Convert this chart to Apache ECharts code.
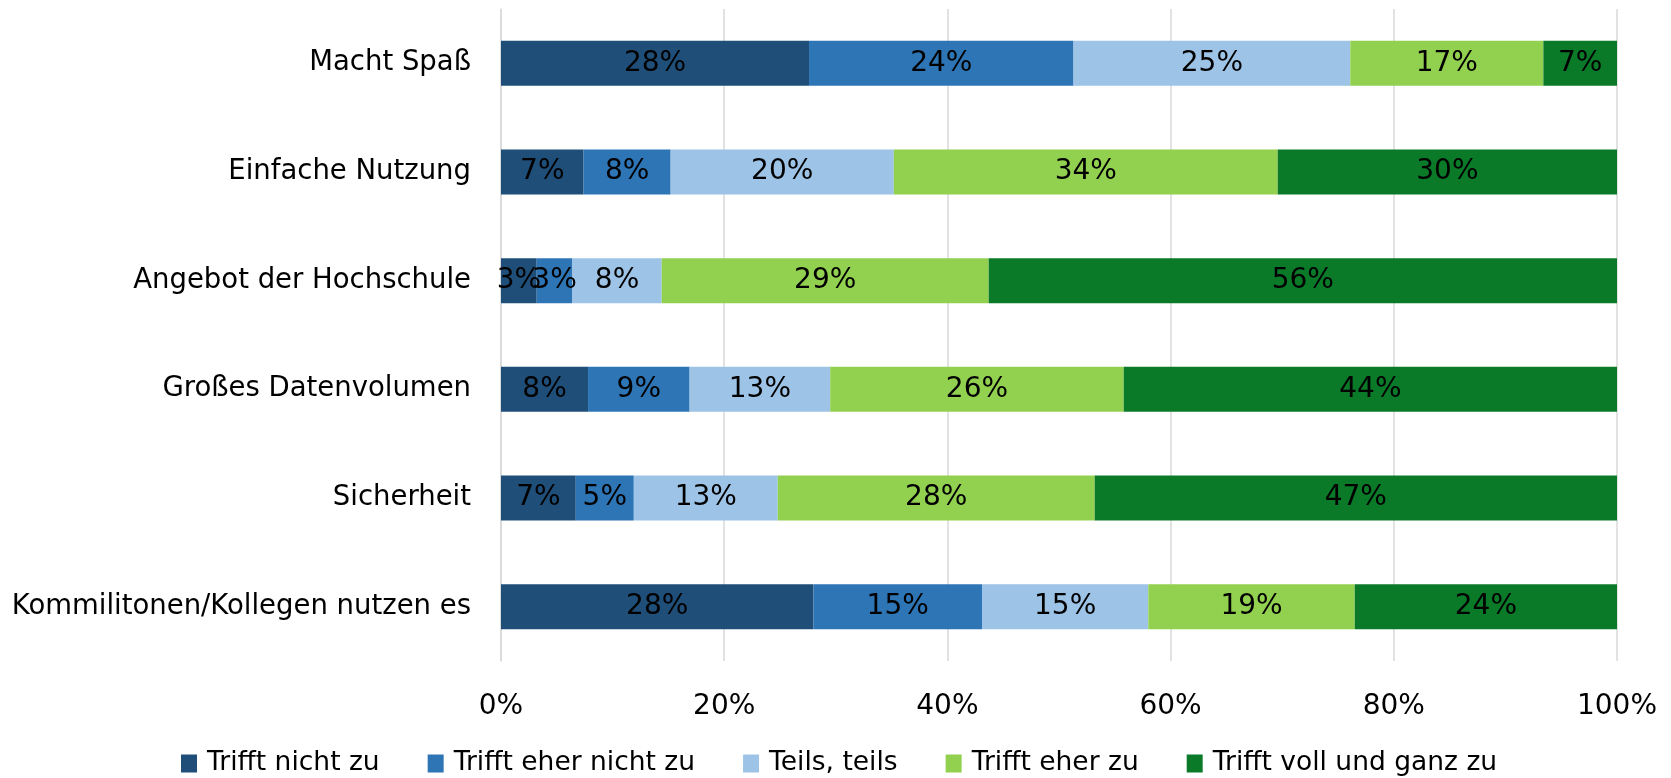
<!DOCTYPE html>
<html>
<head>
<meta charset="utf-8">
<script src="https://cdn.jsdelivr.net/npm/echarts@6/dist/echarts.min.js"></script>
<style>html,body{margin:0;padding:0;background:#fff}#c{width:1671px;height:778px}</style>
</head>
<body>
<div id="c"></div>
<script>
const categories = ["Macht Spaß","Einfache Nutzung","Angebot der Hochschule","Großes Datenvolumen","Sicherheit","Kommilitonen/Kollegen nutzen es"];
const seriesNames = ["Trifft nicht zu","Trifft eher nicht zu","Teils, teils","Trifft eher zu","Trifft voll und ganz zu"];
const triffNicht      = [27.6, 7.4, 3.2, 7.8, 6.7, 28.0];
const triffEherNicht  = [23.7, 7.8, 3.2, 9.1, 5.2, 15.1];
const teilsTeils      = [24.8, 20.0, 8.0, 12.6, 12.9, 14.9];
const triffEher       = [17.3, 34.4, 29.3, 26.3, 28.4, 18.5];
const triffVoll       = [6.6, 30.4, 56.3, 44.2, 46.8, 23.5];
const xTicks = [0, 20, 40, 60, 80, 100];
const colors = ["#1f4e79","#2e75b6","#9dc3e6","#92d050","#0a7a29"];

const FONT = "DejaVu Sans";
const dataSets = [triffNicht, triffEherNicht, teilsTeils, triffEher, triffVoll];
const chart = echarts.init(document.getElementById('c'), null, {renderer:'canvas'});
chart.setOption({
  animation:false,
  backgroundColor:'#fff',
  color: colors,
  grid:{left:501, right:54, top:9, bottom:117, containLabel:false},
  xAxis:{
    type:'value', min:xTicks[0], max:xTicks[xTicks.length-1], interval:20,
    axisLine:{show:false}, axisTick:{show:false},
    splitLine:{show:true, lineStyle:{color:'#d9d9d9', width:1.5}},
    axisLabel:{formatter:'{value}%', color:'#000', fontFamily:FONT, fontSize:28, margin:32}
  },
  yAxis:{
    type:'category', data:categories, inverse:true,
    axisLine:{show:true, lineStyle:{color:'#d9d9d9', width:1.5}},
    axisTick:{show:false},
    axisLabel:{color:'#000', fontFamily:FONT, fontSize:27.5, margin:30}
  },
  legend:{
    left:176, top:745, itemWidth:16, itemHeight:18, itemGap:48,
    icon:'rect',
    textStyle:{color:'#000', fontFamily:FONT, fontSize:26.5, padding:[0,0,0,5]},
    data: seriesNames
  },
  series: seriesNames.map((n,i)=>({
    name:n, type:'bar', stack:'total', barWidth:45,
    data: dataSets[i],
    itemStyle:{color:colors[i]},
    label:{show:true, position:'inside', color:'#000', fontFamily:FONT, fontSize:28,
      formatter:p=>Math.round(p.value)+'%'}
  }))
});
</script>
</body>
</html>
